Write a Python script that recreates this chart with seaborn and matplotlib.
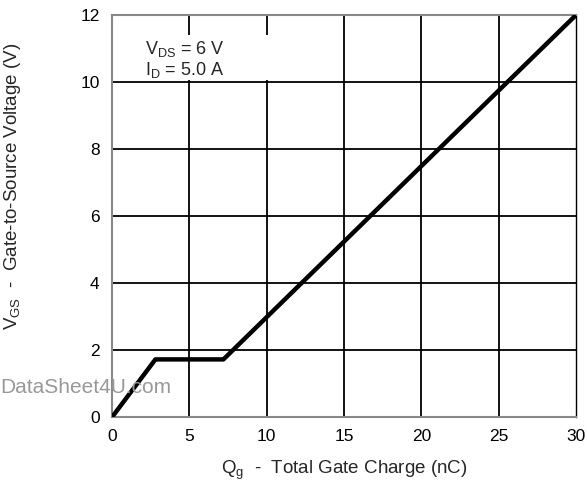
import matplotlib
matplotlib.use("Agg")
import matplotlib.pyplot as plt
from matplotlib.patches import Rectangle
import seaborn as sns
import pandas as pd

qg = [0.0, 2.8, 7.2, 30.0]
vgs = [0.0, 1.72, 1.72, 12.0]
xticks = [0, 5, 10, 15, 20, 25, 30]
yticks = [0, 2, 4, 6, 8, 10, 12]

sns.set_theme(style="white")
plt.rcParams['font.family'] = ['Liberation Sans', 'DejaVu Sans']
plt.rcParams['mathtext.fontset'] = 'custom'
plt.rcParams['mathtext.rm'] = 'Liberation Sans'

fig = plt.figure(figsize=(5.87, 4.90), dpi=100)
ax = fig.add_axes([0.191, 0.149, 0.790, 0.820])

df = pd.DataFrame({"Qg": qg, "VGS": vgs})
for x in xticks[1:-1]:
    ax.axvline(x, color="black", lw=1.3, zorder=1)
for y in yticks[1:-1]:
    ax.axhline(y, color="black", lw=1.3, zorder=1)

# white box behind the annotation (hides grid lines)
ax.add_patch(Rectangle((0.05, 10.06), 12.0, 1.34, facecolor="white",
                       edgecolor="none", zorder=1.5))

sns.lineplot(data=df, x="Qg", y="VGS", ax=ax, color="black", lw=3.2,
             sort=False, zorder=3, solid_capstyle="butt")

ax.set_xlim(0, 30)
ax.set_ylim(0, 12)
ax.set_xticks(xticks)
ax.set_yticks(yticks)
ax.tick_params(axis="both", labelsize=12.5, length=0, pad=9, colors="black")
ax.set_xlabel(r"Q$_\mathregular{g}$  -  Total Gate Charge (nC)", fontsize=13.5, labelpad=10)
ax.set_ylabel(r"V$_\mathregular{GS}$  -  Gate-to-Source Voltage (V)", fontsize=13.5)
ax.yaxis.label.set_va("center")
ax.yaxis.set_label_coords(-0.215, 0.575)

for side in ["top", "bottom", "left"]:
    ax.spines[side].set_color("#888888")
    ax.spines[side].set_linewidth(1.5)
ax.spines["right"].set_color("black")
ax.spines["right"].set_linewidth(1.0)

ax.text(2.1, 11.0, r"V$_\mathregular{DS}$ = 6 V", fontsize=13, va="center", ha="left", zorder=4)
ax.text(2.1, 10.35, r"I$_\mathregular{D}$ = 5.0 A", fontsize=13, va="center", ha="left", zorder=4)

fig.text(0.0, 0.21, "DataSheet4U.com", fontsize=15, color="#999999", ha="left", va="center")

fig.savefig("out.png", dpi=100, facecolor="white")
